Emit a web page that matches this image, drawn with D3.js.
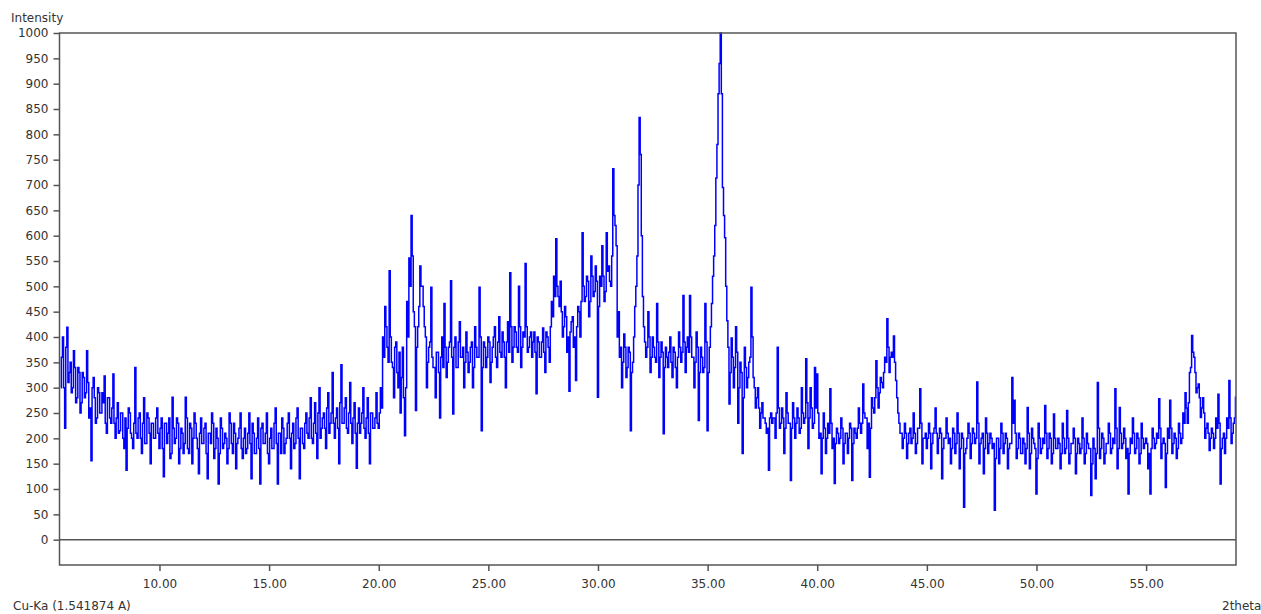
<!DOCTYPE html>
<html><head><meta charset="utf-8">
<script src="https://cdn.jsdelivr.net/npm/d3@7"></script>
<style>body{margin:0;background:#fff}svg{display:block}text{font-family:"DejaVu Sans",sans-serif}</style>
</head><body><svg id="c" width="1261" height="614"></svg>
<script>
// Scan grid: 2theta start and step (degrees)
const startAngle = 5.5;
const stepAngle = 0.1;
// Intensity at 5.5, 5.6, ... (one row per degree)
const intensity = [
  300, 400, 220, 419, 330,
  290, 373, 270, 340, 250, 330, 280, 373, 240, 156,
  320, 230, 300, 250, 290, 323, 210, 280, 230, 327,
  200, 270, 215, 250, 180, 137, 260, 210, 180, 340,
  200, 250, 170, 280, 190, 240, 150, 230, 200, 260,
  180, 240, 124, 230, 210, 160, 281, 190, 240, 150,
  220, 170, 281, 180, 230, 150, 250, 200, 130, 240,
  190, 230, 120, 210, 250, 160, 220, 110, 240, 180,
  210, 150, 250, 190, 230, 140, 200, 250, 160, 220,
  180, 250, 120, 210, 170, 240, 110, 230, 190, 250,
  150, 220, 180, 260, 110, 210, 240, 170, 200, 250,
  140, 230, 190, 260, 120, 220, 180, 250, 200, 280,
  190, 270, 160, 300, 220, 250, 180, 290, 230, 330,
  200, 260, 150, 345, 230, 280, 210, 310, 190, 270,
  141, 260, 230, 300, 200, 280, 150, 250, 220, 290,
  220, 300, 400, 460, 380, 531, 350, 280, 390, 300,
  250, 380, 205, 470, 556, 640, 450, 255, 420, 540,
  500, 420, 300, 380, 498, 340, 280, 370, 240, 400,
  466, 320, 380, 511, 248, 400, 340, 430, 360, 300,
  410, 330, 380, 300, 420, 360, 498, 215, 390, 340,
  400, 310, 380, 420, 340, 440, 360, 390, 300, 430,
  527, 350, 420, 380, 500, 340, 410, 545, 370, 400,
  360, 410, 288, 390, 360, 418, 330, 400, 350, 470,
  520, 594, 480, 510, 400, 460, 370, 293, 430, 380,
  314, 460, 400, 606, 470, 520, 440, 560, 480, 540,
  281, 520, 580, 470, 606, 540, 500, 732, 620, 400,
  360, 300, 406, 320, 380, 215, 350, 460, 560, 833,
  600, 420, 360, 450, 330, 400, 360, 466, 320, 390,
  209, 380, 340, 400, 320, 370, 300, 410, 350, 482,
  330, 400, 482, 360, 300, 410, 235, 380, 330, 466,
  215, 380, 466, 560, 714, 880, 1000, 695, 596, 432,
  268, 398, 300, 420, 230, 350, 170, 380, 300, 350,
  498, 320, 260, 300, 220, 270, 240, 210, 137, 250,
  240, 200, 380, 220, 260, 170, 290, 230, 117, 270,
  200, 260, 210, 300, 230, 357, 180, 300, 220, 340,
  327, 200, 130, 250, 170, 230, 298, 180, 111, 220,
  190, 240, 150, 210, 170, 230, 117, 220, 200, 260,
  210, 307, 240, 180, 123, 280, 250, 353, 260, 320,
  300, 360, 436, 330, 370, 402, 314, 250, 210, 180,
  230, 160, 210, 190, 250, 170, 220, 298, 150, 200,
  180, 230, 140, 210, 260, 170, 220, 120, 200, 240,
  190, 150, 220, 170, 250, 140, 210, 64, 180, 230,
  160, 220, 190, 311, 150, 200, 130, 240, 170, 210,
  180, 58, 200, 150, 230, 170, 210, 140, 190, 320,
  275, 160, 210, 170, 200, 150, 261, 140, 220, 190,
  90, 230, 170, 200, 265, 160, 210, 150, 248, 180,
  200, 140, 230, 170, 255, 150, 190, 220, 130, 200,
  170, 240, 150, 210, 180, 87, 200, 120, 310, 160,
  210, 150, 190, 230, 170, 200, 298, 140, 261, 180,
  220, 160, 90, 200, 240, 170, 210, 150, 230, 180,
  200, 140, 90, 220, 180, 210, 278, 160, 200, 103,
  220, 275, 170, 210, 160, 230, 190, 250, 290, 230,
  330, 403, 360, 290, 307, 241, 280, 200, 230, 176,
  220, 180, 240, 287, 110, 200, 170, 240, 314, 190,
  230, 281
];
// Intensity read at the half steps 5.55, 5.65, ... (the dense core of the band)
const intensityHalf = [
  360, 300, 380, 310, 350,
  300, 340, 280, 330, 270, 320, 290, 310, 260, 300,
  280, 240, 290, 250, 270, 230, 280, 240, 260, 230,
  240, 210, 250, 200, 240, 220, 250, 200, 230, 210,
  240, 200, 230, 190, 250, 210, 230, 200, 240, 210,
  220, 180, 230, 190, 240, 170, 220, 200, 230, 180,
  210, 190, 240, 170, 220, 200, 230, 180, 210, 190,
  220, 170, 210, 190, 230, 180, 200, 170, 220, 190,
  200, 180, 230, 170, 210, 190, 220, 180, 200, 170,
  210, 190, 230, 170, 200, 180, 220, 190, 210, 170,
  200, 180, 230, 190, 210, 170, 220, 190, 230, 200,
  210, 180, 240, 200, 220, 190, 230, 210, 240, 200,
  230, 210, 250, 200, 240, 220, 260, 210, 250, 230,
  240, 220, 270, 230, 260, 220, 250, 230, 240, 210,
  230, 210, 250, 220, 240, 210, 250, 220, 240, 230,
  250, 260, 360, 420, 350, 400, 340, 380, 330, 370,
  320, 280, 300, 400, 500, 560, 420, 380, 460, 500,
  460, 400, 350, 390, 360, 340, 370, 330, 360, 340,
  380, 350, 390, 360, 380, 340, 390, 360, 380, 350,
  370, 350, 390, 340, 380, 360, 400, 340, 380, 360,
  390, 350, 400, 360, 390, 370, 410, 360, 390, 370,
  420, 380, 410, 370, 420, 380, 400, 420, 380, 410,
  390, 370, 400, 360, 390, 370, 410, 380, 420, 440,
  480, 500, 460, 450, 420, 440, 400, 410, 440, 400,
  420, 450, 470, 500, 480, 510, 470, 520, 490, 510,
  460, 500, 520, 490, 530, 510, 560, 640, 580, 450,
  380, 350, 380, 340, 370, 330, 400, 500, 700, 760,
  480, 390, 380, 400, 360, 380, 350, 390, 360, 370,
  340, 360, 370, 350, 380, 340, 360, 380, 370, 390,
  380, 370, 400, 360, 350, 380, 330, 360, 340, 390,
  330, 420, 520, 620, 780, 940, 880, 640, 500, 380,
  330, 360, 340, 370, 300, 330, 280, 340, 320, 360,
  400, 300, 280, 260, 250, 240, 230, 220, 240, 230,
  240, 250, 260, 230, 240, 220, 250, 230, 220, 240,
  230, 240, 220, 250, 240, 270, 240, 260, 230, 260,
  250, 210, 200, 220, 200, 210, 230, 200, 190, 210,
  200, 220, 190, 210, 200, 220, 190, 210, 220, 230,
  230, 250, 240, 230, 220, 260, 280, 300, 290, 310,
  330, 350, 380, 360, 360, 350, 280, 230, 210, 200,
  210, 190, 220, 200, 210, 190, 220, 230, 200, 210,
  200, 210, 190, 220, 210, 200, 210, 180, 200, 210,
  200, 180, 210, 190, 210, 180, 200, 170, 200, 210,
  190, 210, 200, 230, 190, 210, 180, 210, 190, 200,
  190, 160, 200, 180, 210, 190, 200, 180, 190, 230,
  210, 180, 200, 170, 190, 180, 210, 170, 200, 180,
  160, 200, 180, 190, 210, 180, 200, 170, 200, 180,
  190, 170, 200, 180, 200, 170, 190, 200, 170, 190,
  180, 200, 170, 190, 180, 150, 180, 170, 220, 180,
  200, 170, 190, 210, 180, 190, 220, 180, 210, 190,
  200, 180, 170, 190, 210, 180, 200, 170, 200, 190,
  190, 170, 180, 200, 190, 200, 220, 190, 190, 170,
  200, 220, 190, 200, 180, 210, 200, 230, 260, 270,
  340, 370, 330, 300, 280, 260, 250, 220, 210, 200,
  210, 200, 220, 230, 180, 210, 200, 220, 240, 210,
  240
];
const yTicks = [0, 50, 100, 150, 200, 250, 300, 350, 400, 450, 500, 550, 600, 650, 700, 750, 800, 850, 900, 950, 1000];
const xTicks = [10, 15, 20, 25, 30, 35, 40, 45, 50, 55];
const yTitle = "Intensity";
const xTitle = "2theta";
const sourceLabel = "Cu-Ka (1.541874 A)";

const svg = d3.select("#c");
const L = 59.5, R = 1236, T = 33, B = 565;
const x = d3.scaleLinear().domain([5.44, 59.1]).range([L, R]);
const y = d3.scaleLinear().domain([-50, 1000]).range([B, T]);
const axisColor = "#555";
const textColor = "#333";

const pts = [];
intensity.forEach((v, i) => pts.push([startAngle + i * stepAngle, v]));
intensityHalf.forEach((v, i) => pts.push([startAngle + stepAngle / 2 + i * stepAngle, v]));
pts.sort((a, b) => a[0] - b[0]);

svg.append("clipPath").attr("id", "clip").append("rect")
  .attr("x", L).attr("y", T - 1).attr("width", R - L).attr("height", B - T + 1);

// zero line
svg.append("line").attr("x1", L).attr("x2", R).attr("y1", y(0)).attr("y2", y(0))
  .attr("stroke", axisColor).attr("stroke-width", 1.5);

// data
svg.append("path").datum(pts)
  .attr("clip-path", "url(#clip)")
  .attr("fill", "none").attr("stroke", "#0000ff").attr("stroke-width", 1.5)
  .attr("stroke-linejoin", "miter")
  .attr("d", d3.line().curve(d3.curveStep).x(d => x(d[0])).y(d => y(d[1])));

// frame
svg.append("rect").attr("x", L).attr("y", T).attr("width", R - L).attr("height", B - T)
  .attr("fill", "none").attr("stroke", axisColor).attr("stroke-width", 1.5);

// axes
const gy = svg.append("g").attr("transform", `translate(${L},0)`)
  .call(d3.axisLeft(y).tickValues(yTicks).tickFormat(d3.format("d")).tickSize(6).tickPadding(5));
const gx = svg.append("g").attr("transform", `translate(0,${B})`)
  .call(d3.axisBottom(x).tickValues(xTicks).tickFormat(d3.format(".2f")).tickSize(6).tickPadding(8));
[gy, gx].forEach(g => {
  g.select(".domain").remove();
  g.selectAll(".tick line").attr("stroke", axisColor).attr("stroke-width", 1.5);
  g.selectAll(".tick text").attr("fill", textColor).style("font-size", "12px")
    .style("font-family", '"DejaVu Sans", sans-serif');
});

svg.append("text").attr("x", 11).attr("y", 22).attr("fill", textColor)
  .style("font-size", "12px").text(yTitle);
svg.append("text").attr("x", 13).attr("y", 610).attr("fill", textColor)
  .style("font-size", "12px").text(sourceLabel);
svg.append("text").attr("x", 1222).attr("y", 610).attr("fill", textColor)
  .style("font-size", "12px").text(xTitle);
</script></body></html>
